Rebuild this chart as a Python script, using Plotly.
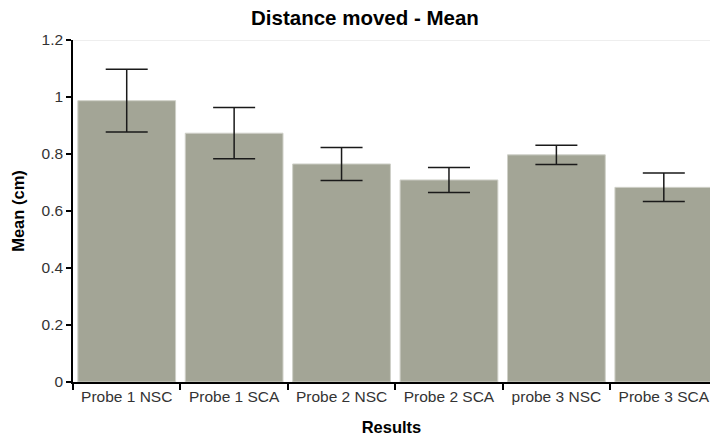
import plotly.graph_objects as go

categories = ["Probe 1 NSC", "Probe 1 SCA", "Probe 2 NSC", "Probe 2 SCA", "probe 3 NSC", "Probe 3 SCA"]
means = [0.987, 0.873, 0.765, 0.709, 0.797, 0.683]
errors = [0.110, 0.090, 0.058, 0.044, 0.034, 0.050]
y_ticks = [0, 0.2, 0.4, 0.6, 0.8, 1.0, 1.2]
y_tick_text = ["0", "0.2", "0.4", "0.6", "0.8", "1", "1.2"]

font_family = "Liberation Sans, Arial, sans-serif"

fig = go.Figure(
    go.Bar(
        x=categories,
        y=means,
        marker=dict(color="#a3a596", line=dict(color="#cfd0c8", width=1)),
        error_y=dict(type="data", array=errors, color="#1a1a1a", thickness=1.5, width=21),
    )
)

fig.update_layout(
    width=710,
    height=437,
    margin=dict(l=73, r=0, t=40, b=55),
    paper_bgcolor="white",
    plot_bgcolor="white",
    bargap=0.09,
    showlegend=False,
    font=dict(family=font_family, size=15.5, color="#333333"),
    title=dict(
        text="<b>Distance moved - Mean</b>",
        x=0.514,
        xanchor="center",
        y=0.96,
        yanchor="middle",
        font=dict(family=font_family, size=20.5, color="#000000"),
    ),
)

fig.update_xaxes(
    range=[-0.5, 5.43],
    showline=True,
    linecolor="#000000",
    linewidth=1.5,
    ticks="outside",
    tickson="boundaries",
    ticklen=6,
    tickwidth=1.5,
    tickcolor="#000000",
    showgrid=False,
    tickfont=dict(family=font_family, size=15.5, color="#333333"),
    title=dict(
        text="<b>Results</b>",
        standoff=17,
        font=dict(family=font_family, size=16.5, color="#000000"),
    ),
)

fig.update_yaxes(
    range=[0, 1.2],
    tickvals=y_ticks,
    ticktext=y_tick_text,
    showline=True,
    linecolor="#000000",
    linewidth=1.5,
    ticks="outside",
    ticklen=5,
    tickwidth=1.5,
    tickcolor="#000000",
    showgrid=False,
    zeroline=False,
    tickfont=dict(family=font_family, size=15.5, color="#333333"),
    title=dict(
        text="<b>Mean (cm)</b>",
        standoff=13,
        font=dict(family=font_family, size=16.5, color="#000000"),
    ),
)

# light reference line along the top of the value axis
fig.add_shape(
    type="line",
    xref="paper",
    yref="y",
    x0=0,
    x1=1,
    y0=1.2,
    y1=1.2,
    line=dict(color="#dddddd", width=1),
    layer="below",
)

fig.write_html("out.html")
